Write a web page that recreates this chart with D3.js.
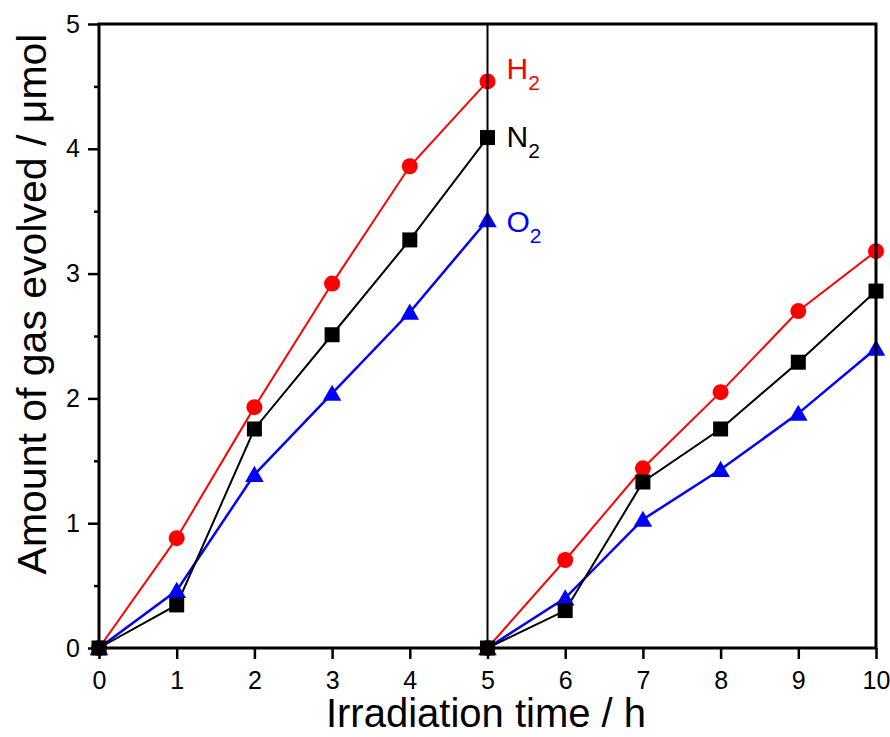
<!DOCTYPE html>
<html>
<head>
<meta charset="utf-8">
<script src="https://cdn.jsdelivr.net/npm/d3@7"></script>
<style>
  body { margin: 0; background: #fff; }
  text { font-family: "Liberation Sans", Arial, sans-serif; }
</style>
</head>
<body>
<div id="chart"></div>
<script>
// irradiation times, two runs (gas evacuated at 5 h)
var run1Times = [0, 1, 2, 3, 4, 5];
var run2Times = [5, 6, 7, 8, 9, 10];

// amounts of gas, umol
var h2Run1 = [0, 0.88, 1.93, 2.92, 3.86, 4.54];
var h2Run2 = [0, 0.705, 1.44, 2.05, 2.70, 3.18];
var n2Run1 = [0, 0.345, 1.755, 2.51, 3.27, 4.09];
var n2Run2 = [0, 0.30, 1.33, 1.755, 2.29, 2.86];
var o2Run1 = [0, 0.46, 1.39, 2.04, 2.69, 3.43];
var o2Run2 = [0, 0.40, 1.03, 1.43, 1.88, 2.40];

var xTicks = [0, 1, 2, 3, 4, 5, 6, 7, 8, 9, 10];
var yTicks = [0, 1, 2, 3, 4, 5];
var yMinor = [0.5, 1.5, 2.5, 3.5, 4.5];

//Chart Settings
var settings = {
  width: 890,
  height: 737,
  margin: {top: 24, right: 14, bottom: 89, left: 99}
}
var plotW = settings.width - settings.margin.left - settings.margin.right
var plotH = settings.height - settings.margin.top - settings.margin.bottom

//labelY = baseline of the gas label, in axis units
var series = [
  {name: 'H', color: '#ff0000', shape: 'circle', runs: [h2Run1, h2Run2], labelY: 4.56},
  {name: 'O', color: '#0000ff', shape: 'triangle', runs: [o2Run1, o2Run2], labelY: 3.33},
  {name: 'N', color: '#000000', shape: 'square', runs: [n2Run1, n2Run2], labelY: 4.015}
]

var svg = d3.select('#chart').append('svg')
  .attr('width', settings.width)
  .attr('height', settings.height)

var g = svg.append('g')
  .attr('transform', 'translate(' + settings.margin.left + ',' + settings.margin.top + ')')

var x = d3.scaleLinear().domain([0, 10]).range([0, plotW])
var y = d3.scaleLinear().domain([0, 5]).range([plotH, 0])

var line = d3.line().x(d => x(d[0])).y(d => y(d[1]))

var symbols = {
  circle: d3.symbol().type(d3.symbolCircle).size(Math.PI * 8 * 8),
  square: d3.symbol().type(d3.symbolSquare).size(15 * 15),
  triangle: d3.symbol().type(d3.symbolTriangle).size(150)
}

//Lines and markers
series.forEach(s => {
  var times = [run1Times, run2Times]
  s.runs.forEach((vals, r) => {
    var pts = vals.map((v, i) => [times[r][i], v])
    g.append('path')
      .datum(pts)
      .attr('d', line)
      .attr('fill', 'none')
      .attr('stroke', s.color)
      .attr('stroke-width', s.shape === 'triangle' ? 2.5 : 2)
  })
})
series.forEach(s => {
  var times = [run1Times, run2Times]
  s.runs.forEach((vals, r) => {
    g.selectAll(null)
      .data(vals.map((v, i) => [times[r][i], v]))
      .join('path')
      .attr('d', symbols[s.shape])
      .attr('transform', d => 'translate(' + x(d[0]) + ',' + (y(d[1]) + (s.shape === 'triangle' ? 2 : 0)) + ')')
      .attr('fill', s.color)
  })
})

//Axes
var xAxis = g.append('g')
  .attr('transform', 'translate(0,' + plotH + ')')
  .call(d3.axisBottom(x).tickValues(xTicks).tickSize(11).tickPadding(12).tickFormat(d3.format('d')))
var yAxis = g.append('g')
  .call(d3.axisLeft(y).tickValues(yTicks).tickSize(11).tickPadding(8).tickFormat(d3.format('d')))
g.append('g')
  .call(d3.axisLeft(y).tickValues(yMinor).tickSize(5).tickFormat(''))
  .call(a => a.select('.domain').remove())

;[xAxis, yAxis].forEach(a => {
  a.select('.domain').remove()
  a.selectAll('.tick text').attr('fill', '#000').style('font-size', '25px')
    .style('font-family', '"Liberation Sans", Arial, sans-serif')
})
g.selectAll('.tick line').attr('stroke', '#000').attr('stroke-width', 2.5)

//Frame and divider at 5 h
g.append('rect')
  .attr('x', 0).attr('y', 0).attr('width', plotW).attr('height', plotH)
  .attr('fill', 'none').attr('stroke', '#000').attr('stroke-width', 3)
g.append('line')
  .attr('x1', x(5)).attr('x2', x(5)).attr('y1', 0).attr('y2', plotH)
  .attr('stroke', '#000').attr('stroke-width', 2)

//Gas labels
series.forEach(s => {
  var t = g.append('text')
    .attr('x', x(5) + 19)
    .attr('y', y(s.labelY))
    .attr('fill', s.color)
    .style('font-size', '30px')
  t.append('tspan').text(s.name)
  t.append('tspan').attr('dy', 11).style('font-size', '21px').text('2')
})

//Axis titles
svg.append('text')
  .attr('x', 486)
  .attr('y', 727)
  .attr('text-anchor', 'middle')
  .style('font-size', '40px')
  .text('Irradiation time / h')

svg.append('text')
  .attr('transform', 'translate(46,304) rotate(-90)')
  .attr('text-anchor', 'middle')
  .style('font-size', '41px')
  .text('Amount of gas evolved / μmol')
</script>
</body>
</html>
